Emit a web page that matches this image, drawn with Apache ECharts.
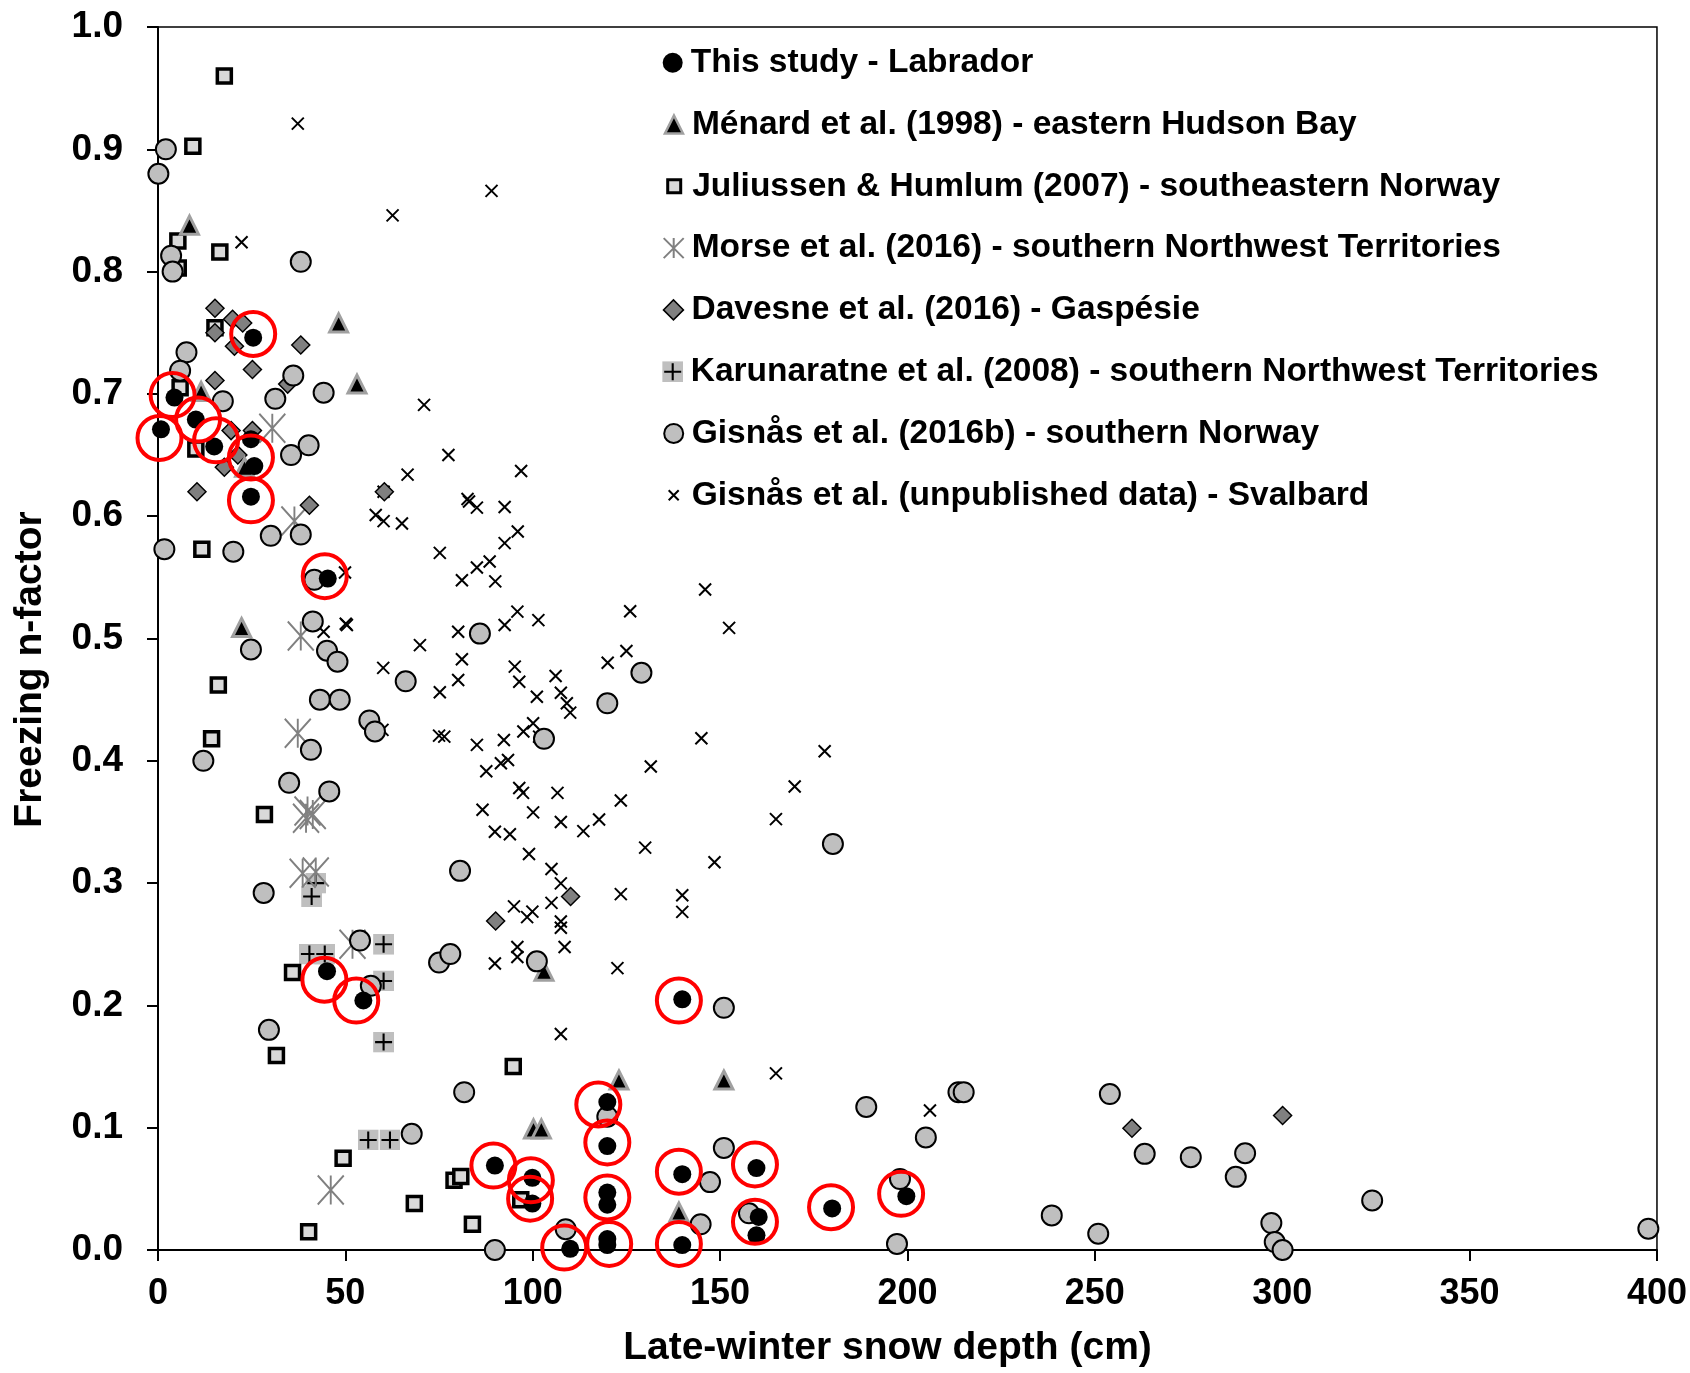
<!DOCTYPE html>
<html><head><meta charset="utf-8">
<script src="https://cdn.jsdelivr.net/npm/echarts@6/dist/echarts.min.js"></script>
<style>html,body{margin:0;padding:0;background:#fff}#c{width:1690px;height:1373px}</style>
</head><body><div id="c"></div>
<script>
// ---------- data (x = late-winter snow depth cm, y = freezing n-factor) ----------
const labrador = [[0.8,0.671],[4.4,0.697],[10.1,0.679],[15,0.657],[24.8,0.663],[25.7,0.641],[24.8,0.616],[25.4,0.746],[45.3,0.549],[45.1,0.228],[54.8,0.204],[139.9,0.205],[119.9,0.121],[119.9,0.085],[89.9,0.069],[99.9,0.059],[99.9,0.038],[119.9,0.047],[119.9,0.037],[139.9,0.062],[159.7,0.067],[160.3,0.027],[159.7,0.012],[179.9,0.034],[199.7,0.044],[110,0.001],[119.9,0.009],[119.9,0.004],[139.9,0.004]];
const highlightRings = [[0.4,0.664],[3.9,0.699],[10.7,0.679],[15.5,0.662],[24.8,0.648],[24.8,0.613],[25.4,0.749],[44.5,0.551],[44.4,0.221],[52.9,0.204],[139,0.204],[117.5,0.119],[119.9,0.088],[89.5,0.069],[99.5,0.057],[99.3,0.042],[119.9,0.043],[139,0.064],[159.3,0.070],[159.3,0.023],[179.6,0.035],[108.4,0.002],[120.4,0.005],[139,0.005],[198.3,0.046]];
const menard = [[8.4,0.838],[11.5,0.702],[48.2,0.758],[53.1,0.708],[22.3,0.509],[23.1,0.640],[103,0.228],[123,0.139],[151,0.139],[100.2,0.099],[102.3,0.099],[139,0.031]];
const juliussen = [[17.7,0.960],[9.3,0.9025],[5.3,0.825],[5.4,0.803],[16.5,0.816],[15.2,0.754],[5.9,0.705],[10.1,0.655],[11.7,0.573],[16.1,0.462],[14.3,0.418],[28.4,0.356],[35.9,0.227],[31.6,0.159],[49.4,0.075],[40.2,0.015],[68.4,0.038],[79,0.057],[80.8,0.060],[83.9,0.021],[94.8,0.150],[96.8,0.041]];
const morse = [[30.5,0.672],[36.4,0.596],[38.1,0.502],[37.3,0.4225],[39.9,0.359],[39.5,0.353],[41.3,0.356],[38.6,0.308],[42.1,0.309],[51.9,0.250],[46.1,0.049]];
const davesne = [[15.2,0.770],[19.9,0.761],[22.6,0.758],[15.2,0.750],[38.1,0.740],[20.4,0.739],[25.2,0.720],[15.2,0.711],[34.6,0.708],[19.5,0.670],[25.2,0.670],[21.3,0.650],[17.7,0.640],[10.4,0.620],[40.4,0.609],[60.4,0.620],[90.1,0.269],[110.1,0.289],[259.9,0.0995],[300.1,0.110]];
const karunaratne = [[42.1,0.300],[41,0.289],[40.4,0.242],[44.5,0.242],[60.2,0.250],[60.2,0.220],[60.2,0.170],[56.1,0.090],[61.9,0.090]];
const gisnas2016b = [[2.1,0.900],[0.1,0.880],[3.5,0.813],[3.9,0.800],[38.1,0.808],[7.6,0.734],[5.9,0.719],[17.3,0.694],[31.3,0.696],[36.1,0.715],[44.2,0.701],[35.5,0.650],[40.2,0.658],[1.7,0.573],[20.1,0.571],[30.1,0.584],[38.1,0.585],[41.7,0.548],[41.3,0.514],[24.8,0.491],[45.1,0.490],[47.9,0.481],[66.1,0.465],[85.9,0.504],[43.2,0.450],[48.5,0.450],[56.4,0.433],[57.9,0.424],[40.8,0.409],[12.1,0.400],[35,0.382],[45.7,0.375],[28.2,0.292],[80.6,0.310],[53.9,0.253],[75,0.235],[78,0.242],[56.8,0.216],[29.6,0.180],[81.7,0.129],[67.7,0.095],[89.9,0.0],[129,0.472],[119.9,0.447],[103,0.418],[180.1,0.332],[101.1,0.236],[151,0.198],[119.9,0.109],[189,0.117],[151,0.0835],[147.3,0.0555],[157.7,0.030],[144.8,0.021],[108.8,0.017],[197.2,0.005],[198,0.058],[204.9,0.092],[213.6,0.129],[215,0.129],[254,0.1275],[263.3,0.0786],[275.6,0.0759],[290.1,0.0791],[287.6,0.0598],[238.5,0.0283],[250.9,0.0133],[297.1,0.022],[298,0.0065],[300.1,0.0],[324,0.0405],[397.7,0.0174]];
const svalbard = [[37.3,0.921],[89,0.866],[62.6,0.846],[22.3,0.824],[71,0.691],[77.5,0.650],[66.6,0.634],[96.9,0.637],[60.2,0.620],[82.6,0.614],[83,0.612],[85.1,0.607],[92.5,0.6075],[58.1,0.601],[60.2,0.596],[65.1,0.594],[96,0.5875],[92.5,0.578],[75.2,0.570],[88.5,0.563],[85.1,0.558],[81.1,0.5476],[90,0.5467],[49.9,0.554],[95.9,0.522],[50.1,0.512],[50.4,0.511],[44.2,0.5055],[80.1,0.5055],[92.5,0.511],[69.9,0.4946],[81.1,0.483],[95.2,0.477],[60.1,0.476],[80.1,0.466],[96.4,0.4647],[75.2,0.456],[59.9,0.4253],[75,0.4206],[76.4,0.4198],[85.1,0.413],[92.3,0.417],[91.5,0.398],[93.4,0.4007],[87.6,0.3915],[96.4,0.3777],[86.6,0.360],[146,0.540],[126,0.5223],[152.4,0.5087],[101.5,0.515],[125,0.4898],[120,0.4802],[106.1,0.4694],[101.1,0.4524],[107.5,0.4557],[109.1,0.447],[110,0.4394],[100.1,0.4307],[97.5,0.424],[101.7,0.4198],[145,0.4184],[177.9,0.4078],[131.5,0.3953],[169.9,0.379],[97.4,0.3738],[106.6,0.3738],[123.5,0.3676],[100.1,0.3578],[164.9,0.3523],[117.7,0.352],[107.5,0.3499],[113.5,0.3425],[89.9,0.342],[93.9,0.340],[99,0.3238],[130,0.329],[148.5,0.317],[105,0.3115],[107.5,0.2998],[123.5,0.291],[139.9,0.290],[139.9,0.2765],[95,0.281],[99.9,0.2767],[98.5,0.2722],[105,0.2838],[107.5,0.2686],[107.5,0.2635],[95.9,0.2477],[95.9,0.2396],[108.5,0.2477],[89.9,0.2343],[101.1,0.2373],[122.6,0.2305],[107.5,0.1766],[164.9,0.1444],[206,0.114]];
const seriesNames = [
  'This study - Labrador',
  'Ménard et al. (1998) - eastern Hudson Bay',
  'Juliussen & Humlum (2007) - southeastern Norway',
  'Morse et al. (2016) - southern Northwest Territories',
  'Davesne et al. (2016) - Gaspésie',
  'Karunaratne et al. (2008) - southern Northwest Territories',
  'Gisnås et al. (2016b) - southern Norway',
  'Gisnås et al. (unpublished data) - Svalbard'
];
const xName = 'Late-winter snow depth (cm)';
const yName = 'Freezing n-factor';

// ---------- styles ----------
const FONT = "'Liberation Sans', Arial, sans-serif";
const kSvg = "<svg xmlns='http://www.w3.org/2000/svg' width='42' height='42' viewBox='0 0 21 21'><rect width='21' height='21' fill='#bfbfbf'/><path d='M10.5 2V19M2 10.5H19' stroke='#000' stroke-width='2.1'/></svg>";
const kSym = 'image://data:image/svg+xml;charset=utf-8,' + encodeURIComponent(kSvg);
const asterisk = 'path://M10,0L10,20M0,0L20,20M0,20L20,0';
const cross = 'path://M0,0L10,10M0,10L10,0';

const styles = [
  {data: labrador, symbol:'circle', size:18, item:{color:'#000'}, z:8, leg:20},
  {data: menard, symbol:'triangle', size:18, item:{color:'#000', borderColor:'#a0a0a0', borderWidth:3}, z:6, leg:18},
  {data: juliussen, symbol:'rect', size:14, item:{color:'#d9d9d9', borderColor:'#000', borderWidth:3.5}, z:5, leg:13},
  {data: morse, symbol:asterisk, size:[26,29], item:{color:'rgba(0,0,0,0)', borderColor:'#808080', borderWidth:2}, z:4, leg:20},
  {data: davesne, symbol:'diamond', size:18, item:{color:'#808080', borderColor:'#000', borderWidth:1.5}, z:5, leg:20},
  {data: karunaratne, symbol:kSym, size:21, item:{color:'#bfbfbf'}, z:3, leg:21},
  {data: gisnas2016b, symbol:'circle', size:20, item:{color:'#bfbfbf', borderColor:'#000', borderWidth:2}, z:7, leg:19},
  {data: svalbard, symbol:cross, size:12, item:{color:'rgba(0,0,0,0)', borderColor:'#000', borderWidth:2}, z:2, leg:10}
];
styles.forEach(s => { s.item.opacity = 1; });

const series = styles.map((s,i)=>({
  name: seriesNames[i], type:'scatter', data:s.data, symbol:s.symbol, symbolSize:s.size,
  itemStyle:s.item, z:s.z, clip:false, silent:true
}));
series.push({
  name:'rings', type:'scatter', data:highlightRings, symbol:'circle', symbolSize:44,
  itemStyle:{color:'rgba(0,0,0,0)', borderColor:'#ff0000', borderWidth:4, opacity:1}, z:10, clip:false, silent:true
});

const legCx = 672.7, legY0 = 62.7, legStep = 61.8;
const legends = styles.map((s,i)=>{
  const w = s.leg;
  return {
    data:[seriesNames[i]], left: legCx - w/2, top: legY0 + legStep*i - 20, padding:0,
    itemWidth:w, itemHeight:w, selectedMode:false,
    itemStyle: Object.assign({}, s.item, s.symbol==='triangle'?{borderWidth:2.5}:{}, s.symbol==='rect'?{borderWidth:3}:{}),
    textStyle:{fontFamily:FONT, fontWeight:'bold', fontSize:33.5, color:'#000', lineHeight:40, padding:[0,0,0,13 - w/2]}
  };
});

const axisCommon = {
  axisLine:{show:true, lineStyle:{color:'#000', width:2}},
  axisTick:{show:true, inside:false, length:11, lineStyle:{color:'#000', width:2}},
  splitLine:{show:false},
};

const chart = echarts.init(document.getElementById('c'), null, {renderer:'canvas'});
chart.setOption({
  animation:false,
  backgroundColor:'#fff',
  grid:{left:158, right:32, top:27, bottom:120, show:true, borderColor:'#000', borderWidth:1.5},
  legend: legends,
  xAxis: Object.assign({
    type:'value', min:0, max:400, interval:50,
    axisLabel:{fontFamily:FONT, fontWeight:'bold', fontSize:36, color:'#000', margin:26},
    name:xName, nameLocation:'middle', nameGap:79,
    nameTextStyle:{fontFamily:FONT, fontWeight:'bold', fontSize:39, color:'#000', padding:[0,40,0,0]}
  }, axisCommon),
  yAxis: Object.assign({
    type:'value', min:0, max:1, interval:0.1,
    axisLabel:{fontFamily:FONT, fontWeight:'bold', fontSize:37, color:'#000', margin:35, formatter:v=>v.toFixed(1)},
    name:yName, nameLocation:'middle', nameGap:108,
    nameTextStyle:{fontFamily:FONT, fontWeight:'bold', fontSize:39, color:'#000', padding:[0,62,0,0]}
  }, axisCommon),
  series: series
});
</script></body></html>
